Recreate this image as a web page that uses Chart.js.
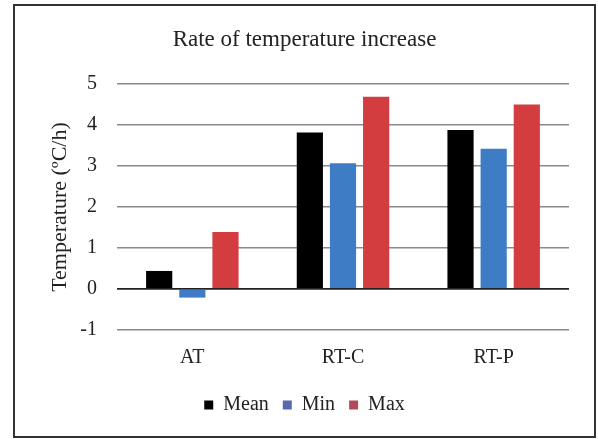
<!DOCTYPE html>
<html>
<head>
<meta charset="utf-8">
<script src="https://cdn.jsdelivr.net/npm/chart.js@4"></script>
<style>
html,body{margin:0;padding:0;background:#fff;}
#wrap{position:absolute;left:0;top:0;width:598px;height:439px;}
#frame{position:absolute;left:13px;top:4px;width:579px;height:430px;border:2px solid #333;pointer-events:none;}
</style>
</head>
<body>
<div id="wrap"><canvas id="c"></canvas></div>
<div id="frame"></div>
<script>
const categories = ["AT", "RT-C", "RT-P"];
const meanValues = [0.44, 3.82, 3.88];
const minValues = [-0.21, 3.07, 3.42];
const maxValues = [1.39, 4.69, 4.5];
const yTicks = [-1, 0, 1, 2, 3, 4, 5];

const FONT = "'Liberation Serif', 'DejaVu Serif', serif";
const legendColors = ['#000000', '#5a68ad', '#b04a5c'];

new Chart(document.getElementById('c'), {
  type: 'bar',
  data: {
    labels: categories,
    datasets: [
      {label: 'Mean', data: meanValues, backgroundColor: '#000000'},
      {label: 'Min', data: minValues, backgroundColor: '#3f7cc6'},
      {label: 'Max', data: maxValues, backgroundColor: '#d43d3f'}
    ]
  },
  options: {
    responsive: true,
    maintainAspectRatio: false,
    animation: false,
    devicePixelRatio: 1,
    datasets: {bar: {categoryPercentage: 0.66, barPercentage: 0.79}},
    layout: {padding: {left: 40, right: 29, top: 20, bottom: 14}},
    plugins: {
      title: {
        display: true,
        text: 'Rate of temperature increase',
        color: '#222',
        font: {family: FONT, size: 23, weight: 'normal'},
        padding: {top: 6, bottom: 30.4}
      },
      legend: {
        position: 'bottom',
        labels: {
          color: '#222',
          font: {family: FONT, size: 20},
          boxWidth: 9,
          boxHeight: 9,
          padding: 14,
          generateLabels: (chart) => {
            const items = Chart.defaults.plugins.legend.labels.generateLabels(chart);
            items.forEach((it, i) => { it.fillStyle = legendColors[i]; it.strokeStyle = legendColors[i]; it.lineWidth = 0; });
            return items;
          }
        }
      },
      tooltip: {enabled: false}
    },
    scales: {
      x: {
        grid: {display: false, drawTicks: false},
        border: {display: false},
        ticks: {color: '#222', font: {family: FONT, size: 20}, padding: 16},
        afterFit: (axis) => { axis.height = 51; }
      },
      y: {
        min: -1,
        max: 5,
        afterBuildTicks: (axis) => { axis.ticks = yTicks.map(v => ({value: v})); },
        afterFit: (axis) => { axis.width = 77; },
        grid: {
          color: (ctx) => ctx.tick && ctx.tick.value === 0 ? '#222' : '#8a8a8a',
          lineWidth: (ctx) => ctx.tick && ctx.tick.value === 0 ? 1.8 : 1.5,
          drawTicks: false
        },
        border: {display: false},
        ticks: {color: '#222', font: {family: FONT, size: 20}, padding: 20},
        title: {
          display: true,
          text: 'Temperature (ºC/h)',
          color: '#222',
          font: {family: FONT, size: 22},
          padding: {top: 7, bottom: 2}
        }
      }
    }
  }
});
</script>
</body>
</html>
